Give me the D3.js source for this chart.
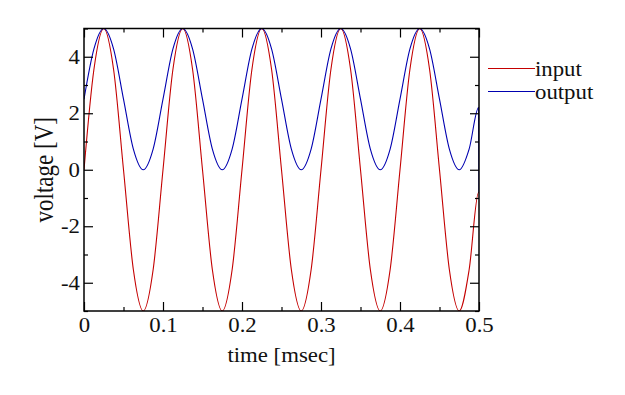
<!DOCTYPE html>
<html>
<head>
<meta charset="utf-8">
<script src="https://cdn.jsdelivr.net/npm/d3@7"></script>
<style>
  body { margin: 0; background: #fff; }
  svg text { font-family: "Liberation Serif", "DejaVu Serif", serif; fill: #111; }
</style>
</head>
<body>
<div id="container"></div>
<script>
// time samples [msec]
const time = [
  0, 0.0125, 0.025, 0.0375, 0.05, 0.0625, 0.075, 0.0875,
  0.1, 0.1125, 0.125, 0.1375, 0.15, 0.1625, 0.175, 0.1875,
  0.2, 0.2125, 0.225, 0.2375, 0.25, 0.2625, 0.275, 0.2875,
  0.3, 0.3125, 0.325, 0.3375, 0.35, 0.3625, 0.375, 0.3875,
  0.4, 0.4125, 0.425, 0.4375, 0.45, 0.4625, 0.475, 0.4875,
  0.4995, 0.5
];
// input voltage [V]
const inputV = [
  0, 3.54, 5, 3.54, 0, -3.54, -5, -3.54,
  0, 3.54, 5, 3.54, 0, -3.54, -5, -3.54,
  0, 3.54, 5, 3.54, 0, -3.54, -5, -3.54,
  0, 3.54, 5, 3.54, 0, -3.54, -5, -3.54,
  0, 3.54, 5, 3.54, 0, -3.54, -5, -3.54,
  -0.8, -0.8
];
// output voltage [V]
const outputV = [
  2.5, 4.27, 5, 4.27, 2.5, 0.73, 0, 0.73,
  2.5, 4.27, 5, 4.27, 2.5, 0.73, 0, 0.73,
  2.5, 4.27, 5, 4.27, 2.5, 0.73, 0, 0.73,
  2.5, 4.27, 5, 4.27, 2.5, 0.73, 0, 0.73,
  2.5, 4.27, 5, 4.27, 2.5, 0.73, 0, 0.73,
  2.2, -0.8
];
const xMajor = [0, 0.1, 0.2, 0.3, 0.4, 0.5];
const xMinor = [0.05, 0.15, 0.25, 0.35, 0.45];
const yMajor = [-4, -2, 0, 2, 4];
const yMinor = [-5, -3, -1, 1, 3, 5];
const seriesNames = ["input", "output"];
const seriesColors = ["#c40000", "#0000b0"];

const W = 625, H = 395;
const margin = { top: 28.5, right: 146, bottom: 84, left: 84 };
const width = W - margin.left - margin.right;
const height = H - margin.top - margin.bottom;
const stretch = 1.14; // glyphs in the reference are a bit wide

const svg = d3.select("#container").append("svg")
  .attr("width", W).attr("height", H);
const g = svg.append("g")
  .attr("transform", "translate(" + margin.left + "," + margin.top + ")");

const x = d3.scaleLinear().domain([0, 0.5]).range([0, width]);
const y = d3.scaleLinear().domain([-5, 5]).range([height, 0]);

// clip the curves to the frame
svg.append("defs").append("clipPath").attr("id", "clip")
  .append("rect").attr("width", width).attr("height", height);

const line = d3.line()
  .x((d) => x(d[0]))
  .y((d) => y(d[1]))
  .curve(d3.curveMonotoneX);

const curves = g.append("g").attr("clip-path", "url(#clip)");
[inputV, outputV].forEach((vals, i) => {
  curves.append("path")
    .datum(time.map((t, k) => [t, vals[k]]))
    .attr("fill", "none")
    .attr("stroke", seriesColors[i])
    .attr("stroke-width", 1.1)
    .attr("d", line);
});

// axes: ticks point inward on all four sides
function styleAxis(sel) {
  sel.select(".domain").remove();
  sel.selectAll("line").attr("stroke", "#000").attr("stroke-width", 1.2);
  sel.selectAll("text").style("font-size", "20px");
}
const plain = (d) => String(d); // hyphen minus, like the reference

g.append("g").attr("transform", "translate(0," + height + ")")
  .call(d3.axisBottom(x).tickValues(xMajor).tickSize(-9).tickPadding(6.5)
    .tickFormat(plain))
  .call(styleAxis)
  .selectAll("text").attr("transform", "scale(" + stretch + ",1)");
g.append("g").attr("transform", "translate(0," + height + ")")
  .call(d3.axisBottom(x).tickValues(xMinor).tickSize(-4).tickFormat(""))
  .call(styleAxis);
g.append("g")
  .call(d3.axisTop(x).tickValues(xMajor).tickSize(-9).tickFormat(""))
  .call(styleAxis);
g.append("g")
  .call(d3.axisTop(x).tickValues(xMinor).tickSize(-4).tickFormat(""))
  .call(styleAxis);

g.append("g")
  .call(d3.axisLeft(y).tickValues(yMajor).tickSize(-9).tickPadding(3.5)
    .tickFormat(plain))
  .call(styleAxis)
  .selectAll("text").attr("transform", "scale(" + stretch + ",1)");
g.append("g")
  .call(d3.axisLeft(y).tickValues(yMinor).tickSize(-4).tickFormat(""))
  .call(styleAxis);
g.append("g").attr("transform", "translate(" + width + ",0)")
  .call(d3.axisRight(y).tickValues(yMajor).tickSize(-9).tickFormat(""))
  .call(styleAxis);
g.append("g").attr("transform", "translate(" + width + ",0)")
  .call(d3.axisRight(y).tickValues(yMinor).tickSize(-4).tickFormat(""))
  .call(styleAxis);

// frame
g.append("rect")
  .attr("width", width).attr("height", height)
  .attr("fill", "none").attr("stroke", "#000").attr("stroke-width", 1.5);

// text with the reference's horizontal stretch
function label(parent, tx, ty, rot, txt, anchor, size, sx, sy) {
  parent.append("text")
    .attr("transform", "translate(" + tx + "," + ty + ") rotate(" + rot + ") scale(" + sx + "," + sy + ")")
    .attr("text-anchor", anchor)
    .style("font-size", size + "px")
    .text(txt);
}
label(g, width / 2, height + 51, 0, "time [msec]", "middle", 20, stretch, 1);
// rotated: the stretch runs across the text
label(g, -31, height / 2, -90, "voltage [V]", "middle", 23, 1, 1.15);

// legend
const legend = g.append("g").attr("transform", "translate(" + (width + 9) + ",40)");
seriesNames.forEach((name, i) => {
  const ly = i * 23;
  legend.append("line")
    .attr("x1", 0).attr("x2", 47).attr("y1", ly).attr("y2", ly)
    .attr("stroke", seriesColors[i]).attr("stroke-width", 1.2);
  label(legend, 47, ly + 7.5, 0, name, "start", 20, stretch, 1);
});
</script>
</body>
</html>
